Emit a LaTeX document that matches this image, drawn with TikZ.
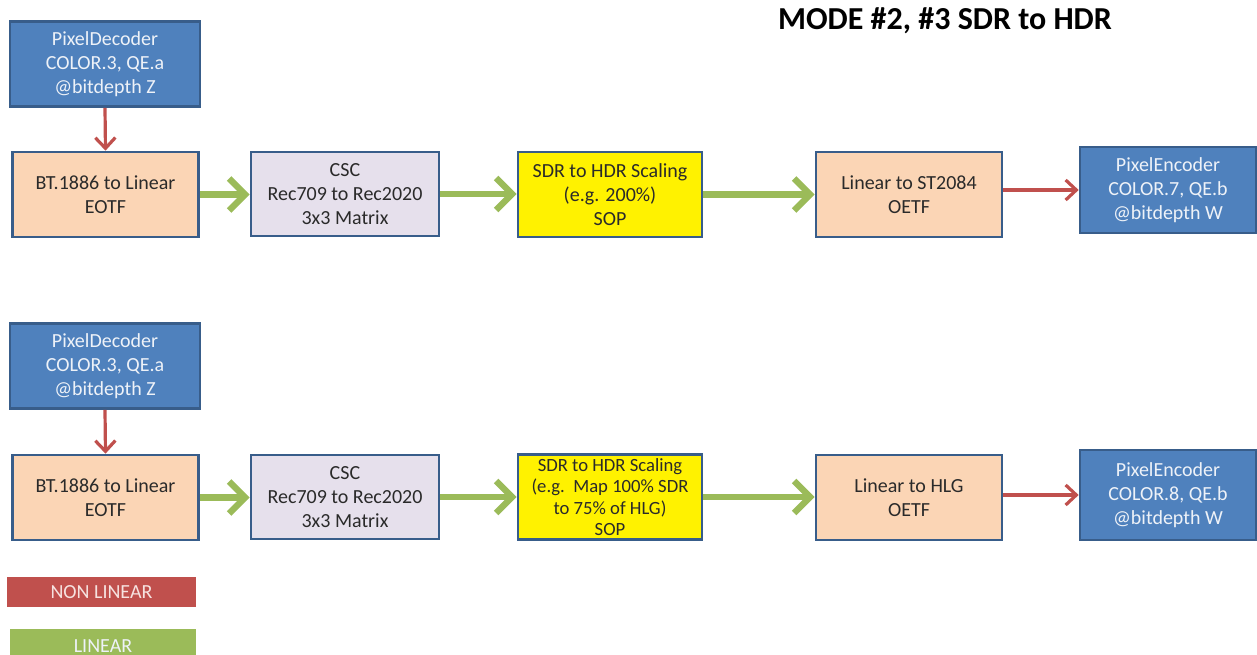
\documentclass[tikz,border=0pt]{standalone}
\usepackage{fontspec}
\setmainfont{Carlito}
\usetikzlibrary{arrows.meta}
\definecolor{decblue}{HTML}{4F81BD}
\definecolor{edgeblue}{HTML}{385D8A}
\definecolor{peach}{HTML}{FBD5B5}
\definecolor{lavender}{HTML}{E6E0EC}
\definecolor{linegreen}{HTML}{9BBB59}
\definecolor{nlred}{HTML}{C0504D}
\definecolor{softwhite}{HTML}{EEF2F8}
\definecolor{pinkwhite}{HTML}{F6E2E0}
\definecolor{txt}{HTML}{2A2A2A}
\newcommand\pxu{0.75pt}
\tikzset{
  x=0.75pt, y=-0.75pt,
  box/.style={draw=edgeblue, line width=2pt, align=center, inner sep=0pt,
    font=\fontsize{15}{18}\selectfont, text=txt},
  coder/.style={box, fill=decblue, text=softwhite},
  peachbox/.style={box, fill=peach},
  lavbox/.style={box, fill=lavender},
  yelbox/.style={box, fill=yellow},
  linarrow/.style={draw=linegreen, line width=4.8pt,
    -{Straight Barb[length=12pt,width=24pt,line width=4.8pt]}},
  nlarrow/.style={draw=nlred, line width=2.4pt,
    -{Straight Barb[length=8pt,width=15pt,line width=2.4pt]}},
  legend/.style={inner sep=0pt, font=\fontsize{15}{17}\selectfont}
}
\begin{document}
\begin{tikzpicture}
\useasboundingbox (0,0) rectangle (1257,655);
% title
\node[font=\fontsize{24}{27}\selectfont\bfseries, text=black] (title) at (945,21) {MODE \#2, \#3 SDR to HDR};
% top row
\node[coder, minimum width=190*\pxu, minimum height=85*\pxu] (dec1) at (105,64) {PixelDecoder\\COLOR.3, QE.a\\@bitdepth Z};
\node[peachbox, minimum width=186*\pxu, minimum height=85*\pxu] (bt1) at (105.5,194.5) {BT.1886 to Linear\\EOTF};
\node[lavbox, minimum width=188*\pxu, minimum height=84*\pxu] (csc1) at (345,194) {CSC\\Rec709 to Rec2020\\3x3 Matrix};
\node[yelbox, minimum width=184*\pxu, minimum height=85*\pxu] (sdr1) at (610,194.5) {SDR to HDR Scaling\\(e.g. 200\%)\\SOP};
\node[peachbox, minimum width=186*\pxu, minimum height=85*\pxu] (lin1) at (909,194.5) {Linear to ST2084\\OETF};
\node[coder, minimum width=176*\pxu, minimum height=86*\pxu] (enc1) at (1168,190) {PixelEncoder\\COLOR.7, QE.b\\@bitdepth W};
% bottom row
\node[coder, minimum width=190*\pxu, minimum height=85*\pxu] (dec2) at (105,366) {PixelDecoder\\COLOR.3, QE.a\\@bitdepth Z};
\node[peachbox, minimum width=186*\pxu, minimum height=85*\pxu] (bt2) at (105.5,497.5) {BT.1886 to Linear\\EOTF};
\node[lavbox, minimum width=188*\pxu, minimum height=84*\pxu] (csc2) at (345,497) {CSC\\Rec709 to Rec2020\\3x3 Matrix};
\node[yelbox, minimum width=184*\pxu, minimum height=85*\pxu, font=\fontsize{14}{16.2}\selectfont] (sdr2) at (610,497) {SDR to HDR Scaling\\(e.g.\ \ Map 100\% SDR\\to 75\% of HLG)\\SOP};
\node[peachbox, minimum width=186*\pxu, minimum height=85*\pxu] (lin2) at (909,497.5) {Linear to HLG\\OETF};
\node[coder, minimum width=176*\pxu, minimum height=90*\pxu] (enc2) at (1168,495) {PixelEncoder\\COLOR.8, QE.b\\@bitdepth W};
% connectors top
\draw[nlarrow] (dec1.south) -- (bt1.north);
\draw[linarrow] (bt1.east) -- (csc1.west |- bt1.east);
\draw[linarrow] (csc1.east) -- (sdr1.west |- csc1.east);
\draw[linarrow] (sdr1.east) -- (lin1.west |- sdr1.east);
\draw[nlarrow] (lin1.east |- enc1.west) -- (enc1.west);
% connectors bottom
\draw[nlarrow] (dec2.south) -- (bt2.north);
\draw[linarrow] (bt2.east) -- (csc2.west |- bt2.east);
\draw[linarrow] (csc2.east) -- (sdr2.west |- csc2.east);
\draw[linarrow] (sdr2.east) -- (lin2.west |- sdr2.east);
\draw[nlarrow] (lin2.east |- enc2.west) -- (enc2.west);
% legend
\node[legend, fill=nlred, text=pinkwhite, minimum width=189*\pxu, minimum height=30*\pxu] (nl) at (101.5,592) {NON LINEAR};
\node[legend, fill=linegreen, text=softwhite, minimum width=186*\pxu, minimum height=34*\pxu] (li) at (103,646) {LINEAR};
\end{tikzpicture}
\end{document}
